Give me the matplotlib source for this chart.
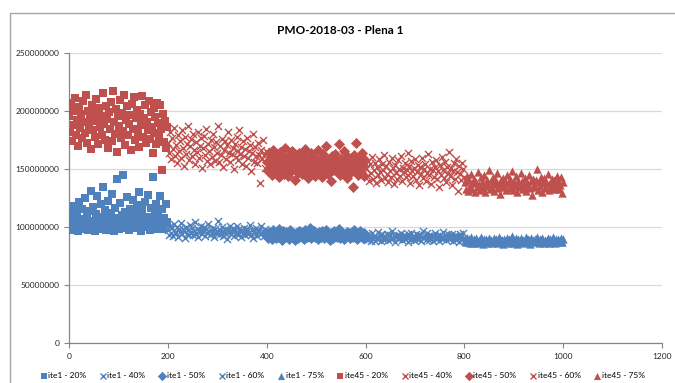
import numpy as np
import matplotlib.pyplot as plt
from matplotlib.patches import Rectangle
from matplotlib.ticker import FuncFormatter

plt.switch_backend('Agg')
plt.rcParams['font.family'] = ['Lato', 'DejaVu Sans']

BLUE = '#4F81BD'
RED = '#C0504D'

# each run covers 200 iterations; values in millions
seg_starts = [0, 200, 400, 600, 800]
pcts = ['20%', '40%', '50%', '60%', '75%']
markers = ['s', 'x', 'D', 'x', '^']

ite1_20 = [
    108.2, 101.5, 112.4, 97.8, 104.6, 118.3, 99.1, 106.7, 110.9, 96.4,
    121.5, 103.2, 98.7, 115.6, 107.3, 100.8, 124.9, 102.1, 109.5, 97.2,
    113.8, 105.4, 131.2, 99.6, 117.1, 104.0, 96.9, 111.3, 126.7, 101.7,
    108.8, 98.3, 119.4, 106.1, 134.6, 100.2, 114.7, 97.5, 109.9, 122.3,
    103.6, 99.9, 112.0, 128.4, 105.8, 96.6, 116.2, 102.9, 141.8, 107.9,
    98.1, 120.6, 104.3, 110.2, 144.7, 99.4, 113.1, 101.0, 125.8, 106.5,
    97.0, 115.9, 103.8, 108.4, 123.2, 100.5, 111.7, 98.9, 118.8, 105.1,
    130.1, 102.4, 96.8, 114.3, 107.6, 99.8, 121.9, 104.7, 109.0, 127.6,
    101.3, 97.4, 116.8, 103.0, 143.2, 106.9, 99.2, 112.6, 120.1, 98.5,
    110.6, 105.7, 126.3, 100.9, 115.2, 97.9, 108.1, 102.6, 119.9, 104.4]
ite1_40 = [
    97.2, 93.5, 100.8, 95.1, 98.9, 92.4, 102.3, 96.0, 94.7, 99.6,
    91.8, 97.9, 95.6, 103.7, 93.9, 98.2, 96.5, 90.9, 100.1, 94.3,
    97.6, 92.9, 101.5, 95.9, 99.1, 93.2, 96.8, 104.6, 94.0, 98.5,
    91.4, 97.0, 95.3, 100.5, 93.6, 96.2, 99.8, 92.1, 98.0, 94.9,
    102.7, 96.4, 93.0, 97.4, 95.0, 99.3, 91.6, 98.7, 94.5, 96.9,
    105.1, 93.3, 97.7, 95.4, 100.3, 92.6, 96.1, 98.4, 94.1, 89.8,
    97.3, 95.8, 101.2, 93.8, 96.6, 99.0, 92.3, 97.1, 94.6, 100.9,
    95.2, 93.1, 98.6, 96.3, 91.2, 97.5, 94.4, 99.5, 92.8, 96.0,
    98.1, 94.2, 95.7, 102.0, 93.4, 97.8, 90.5, 96.7, 94.8, 99.2,
    92.0, 95.5, 97.2, 93.7, 100.6, 94.9, 96.4, 91.9, 98.3, 95.0]
ite1_50 = [
    93.4, 90.8, 96.1, 91.9, 94.7, 89.6, 97.3, 92.5, 95.2, 90.3,
    93.9, 91.4, 98.6, 92.8, 94.1, 89.2, 96.5, 93.0, 91.1, 95.8,
    92.2, 94.4, 90.0, 97.8, 93.6, 91.7, 95.0, 92.9, 88.7, 94.9,
    93.2, 90.6, 96.8, 92.0, 95.5, 91.3, 94.2, 89.9, 97.0, 93.7,
    91.6, 95.3, 92.6, 99.4, 90.9, 94.0, 93.1, 96.2, 91.0, 94.6,
    92.4, 89.4, 95.7, 93.3, 91.8, 96.9, 92.1, 94.8, 90.4, 93.8,
    97.5, 91.5, 94.3, 92.7, 88.9, 95.1, 93.5, 90.7, 96.4, 92.3,
    94.5, 91.2, 93.0, 98.1, 90.1, 95.4, 92.9, 94.1, 89.7, 93.9,
    91.9, 96.0, 92.5, 94.9, 90.5, 93.2, 95.6, 91.4, 97.2, 92.8,
    94.2, 89.5, 93.6, 91.6, 96.6, 92.0, 94.7, 90.2, 95.0, 93.1]
ite1_60 = [
    91.2, 88.7, 93.6, 89.9, 92.4, 87.8, 94.8, 90.5, 92.0, 88.3,
    91.7, 89.4, 95.5, 90.9, 92.8, 88.0, 93.9, 91.4, 89.1, 92.6,
    90.2, 94.3, 88.5, 91.9, 93.1, 89.6, 96.2, 90.7, 92.2, 87.5,
    91.0, 93.4, 89.3, 92.7, 90.1, 94.6, 88.8, 91.6, 93.0, 89.8,
    92.5, 90.4, 87.2, 93.7, 91.3, 89.0, 95.1, 90.8, 92.1, 88.4,
    91.8, 94.0, 89.5, 92.9, 90.0, 93.3, 88.2, 91.5, 96.7, 90.6,
    92.3, 89.2, 94.4, 91.1, 88.9, 93.5, 90.3, 92.0, 87.9, 91.9,
    94.9, 89.7, 92.6, 90.9, 88.1, 93.2, 91.4, 89.4, 95.3, 90.5,
    92.7, 88.6, 91.2, 93.8, 89.9, 92.2, 90.2, 94.1, 88.3, 91.7,
    93.0, 89.1, 92.4, 90.7, 86.9, 93.6, 91.0, 89.6, 94.5, 90.4]
ite1_75 = [
    88.4, 86.7, 90.2, 87.5, 89.3, 85.9, 91.1, 88.0, 86.3, 89.8,
    87.2, 90.6, 88.8, 86.0, 89.1, 87.7, 91.6, 88.2, 85.6, 90.0,
    87.9, 89.5, 86.5, 88.6, 90.9, 87.1, 89.0, 85.8, 88.9, 87.4,
    90.4, 86.8, 89.7, 88.1, 86.2, 91.3, 87.6, 89.2, 88.5, 85.4,
    89.9, 87.0, 88.7, 90.7, 86.4, 89.4, 87.8, 88.3, 91.9, 86.6,
    88.9, 87.3, 90.3, 85.7, 89.6, 88.0, 86.9, 90.1, 87.5, 89.0,
    86.1, 88.6, 91.0, 87.2, 89.8, 88.4, 85.5, 90.5, 87.9, 88.8,
    86.7, 89.3, 87.6, 91.4, 88.2, 86.3, 89.9, 87.0, 90.8, 88.5,
    85.9, 89.1, 87.4, 88.7, 90.2, 86.5, 89.5, 88.1, 87.1, 91.2,
    88.9, 86.0, 90.0, 87.7, 89.4, 88.3, 86.8, 90.6, 87.3, 89.7]

ite45_20 = [
    195.3, 182.1, 206.8, 174.5, 199.7, 188.2, 211.4, 178.9, 192.6, 169.8,
    203.5, 185.7, 197.1, 176.3, 208.9, 190.4, 181.2, 213.6, 172.7, 200.3,
    187.5, 194.8, 167.2, 205.1, 183.9, 198.6, 177.4, 210.2, 191.8, 171.5,
    202.7, 186.3, 196.0, 179.6, 215.8, 189.1, 175.2, 204.3, 193.5, 168.4,
    199.2, 184.6, 207.7, 173.8, 217.3, 190.9, 180.5, 201.6, 164.9, 195.9,
    186.8, 209.5, 176.7, 198.1, 182.7, 214.1, 170.6, 192.2, 203.9, 179.1,
    188.7, 196.8, 166.5, 206.2, 184.2, 211.9, 174.9, 193.7, 200.8, 181.6,
    169.3, 197.6, 187.9, 212.7, 177.8, 194.3, 205.6, 172.4, 190.1, 183.3,
    208.4, 175.7, 199.5, 186.1, 163.8, 202.2, 180.8, 195.1, 171.9, 207.3,
    189.6, 178.4, 204.8, 184.9, 149.5, 197.3, 173.2, 191.4, 167.9, 186.5]
ite45_40 = [
    172.4, 163.8, 181.5, 158.2, 176.9, 167.1, 185.3, 161.6, 170.8, 155.4,
    179.2, 165.7, 174.1, 159.9, 183.6, 168.5, 152.8, 177.3, 163.2, 171.9,
    186.7, 157.5, 169.4, 175.8, 161.1, 180.4, 166.3, 154.6, 173.5, 164.9,
    182.1, 159.3, 170.2, 176.5, 150.7, 167.8, 178.6, 162.4, 184.9, 156.8,
    171.3, 165.1, 153.9, 174.7, 160.5, 179.8, 168.9, 157.1, 172.9, 163.6,
    187.4, 155.9, 169.7, 161.8, 176.1, 151.6, 166.8, 173.8, 158.7, 170.5,
    181.9, 164.2, 156.3, 175.4, 162.9, 168.2, 149.8, 171.6, 160.1, 177.7,
    165.4, 157.8, 183.2, 163.0, 169.1, 154.2, 174.3, 161.4, 167.5, 152.3,
    176.8, 159.6, 165.9, 171.1, 148.4, 163.7, 180.6, 156.1, 168.7, 160.8,
    154.9, 172.2, 162.1, 137.6, 166.6, 158.4, 174.9, 161.9, 151.2, 165.2]
ite45_50 = [
    156.2, 148.7, 163.5, 151.9, 159.8, 144.6, 166.3, 153.4, 147.2, 161.7,
    150.5, 157.9, 142.8, 164.8, 155.1, 149.3, 160.6, 146.1, 168.2, 152.7,
    158.4, 143.9, 162.1, 154.6, 148.1, 165.9, 151.3, 157.0, 140.7, 159.3,
    153.8, 146.8, 163.9, 150.1, 156.7, 145.4, 161.2, 152.2, 167.4, 148.9,
    155.6, 141.9, 158.9, 149.7, 164.2, 153.1, 147.6, 160.1, 144.2, 157.5,
    151.0, 166.8, 146.4, 154.3, 159.6, 143.1, 162.7, 150.8, 156.1, 148.4,
    169.5, 152.9, 145.9, 158.2, 154.0, 139.8, 161.5, 149.0, 155.3, 163.1,
    147.9, 157.3, 151.6, 171.8, 144.9, 159.0, 153.6, 148.6, 165.3, 150.3,
    156.5, 142.4, 160.4, 152.4, 146.9, 158.7, 154.9, 134.3, 162.4, 149.5,
    172.6, 155.8, 145.1, 159.4, 151.7, 147.3, 163.6, 153.3, 143.6, 157.7]
ite45_60 = [
    150.3, 143.8, 157.2, 139.6, 153.9, 146.4, 160.7, 141.2, 148.9, 155.5,
    137.8, 151.6, 144.9, 158.3, 147.7, 140.5, 154.7, 149.2, 162.1, 142.6,
    152.4, 145.6, 138.9, 156.4, 148.1, 143.3, 159.5, 150.9, 136.7, 153.2,
    146.9, 141.8, 157.9, 149.7, 144.2, 161.4, 139.3, 151.1, 147.3, 155.1,
    142.9, 149.4, 163.8, 145.2, 152.8, 138.2, 156.9, 148.5, 143.7, 150.6,
    158.9, 140.9, 147.0, 153.6, 135.8, 151.9, 145.9, 159.8, 142.1, 149.9,
    154.3, 139.9, 146.6, 162.7, 144.5, 150.1, 137.3, 155.8, 148.8, 143.0,
    152.1, 157.6, 141.5, 147.9, 134.6, 153.4, 145.0, 160.2, 149.1, 142.3,
    156.1, 139.0, 151.4, 146.2, 164.5, 144.1, 150.8, 136.4, 148.3, 154.9,
    141.1, 158.4, 147.5, 131.2, 152.6, 145.3, 140.2, 155.3, 149.6, 143.4]
ite45_75 = [
    138.4, 133.1, 143.6, 130.8, 140.2, 135.7, 145.9, 132.4, 137.6, 141.8,
    129.9, 139.1, 134.5, 147.3, 136.2, 131.7, 142.7, 138.9, 133.8, 144.4,
    130.2, 137.0, 140.9, 135.1, 149.2, 132.9, 139.7, 134.0, 143.1, 136.8,
    131.3, 141.4, 138.1, 146.6, 133.5, 137.3, 128.7, 140.6, 135.4, 142.2,
    134.8, 139.4, 131.9, 145.1, 137.9, 133.3, 141.1, 136.5, 148.5, 132.1,
    138.7, 135.0, 143.9, 130.5, 140.0, 136.1, 134.2, 146.2, 139.9, 132.7,
    137.4, 142.5, 131.0, 138.2, 135.6, 144.8, 133.9, 139.3, 127.4, 141.6,
    136.4, 134.6, 140.4, 149.8, 132.3, 138.6, 135.3, 143.3, 130.1, 137.8,
    142.0, 133.6, 139.0, 136.9, 145.5, 131.5, 138.0, 134.4, 141.3, 135.9,
    140.7, 132.6, 137.1, 144.1, 139.6, 133.0, 136.0, 142.9, 129.4, 138.5]

ite1 = [ite1_20, ite1_40, ite1_50, ite1_60, ite1_75]
ite45 = [ite45_20, ite45_40, ite45_50, ite45_60, ite45_75]

fig = plt.figure(figsize=[6.75, 3.83], dpi=100)
ax = fig.add_axes([69 / 675, 1 - 343 / 383, 593 / 675, 290 / 383])

# chart frame
fig.patches.append(Rectangle((10 / 675, -0.05), 1.2, 1 - 13 / 383 + 0.05,
                             transform=fig.transFigure, fill=False,
                             edgecolor='#A6A6A6', lw=1, zorder=0))

marker_size = {'s': 26, 'x': 26, 'D': 32, '^': 36}

for group, name, color in [(ite1, 'ite1', BLUE), (ite45, 'ite45', RED)]:
    for start, pct, mk, vals in zip(seg_starts, pcts, markers, group):
        x = np.arange(start + 1, start + 201, 2)
        y = np.array(vals) * 1e6
        ax.scatter(x, y, marker=mk, s=marker_size[mk], color=color,
                   linewidths=1.0 if mk == 'x' else 0,
                   label='{0} - {1}'.format(name, pct), zorder=3)

ax.set_xlim(0, 1200)
ax.set_ylim(0, 250000000)
ax.set_xticks(np.arange(0, 1201, 200))
ax.set_yticks(np.arange(0, 250000001, 50000000))
ax.yaxis.set_major_formatter(FuncFormatter(lambda v, p: '{0:d}'.format(int(v))))

ax.grid(axis='y', color='#D9D9D9', lw=0.9, zorder=0)
ax.set_axisbelow(True)
for side in ['top', 'right']:
    ax.spines[side].set_visible(False)
for side in ['left', 'bottom']:
    ax.spines[side].set_color('#868686')
    ax.spines[side].set_linewidth(0.9)
ax.tick_params(axis='both', colors='#868686', labelcolor='#262626',
               labelsize=6, length=3.5, width=0.8)
ax.tick_params(axis='x', pad=4)

fig.text(340 / 675, 1 - 30 / 383, 'PMO-2018-03 - Plena 1', ha='center',
         va='center', fontsize=8.5, fontweight='bold', color='#000000')

handles, labels = ax.get_legend_handles_labels()
leg = fig.legend(handles, labels, loc='center', ncol=10,
                 bbox_to_anchor=(343 / 675, 1 - 376 / 383), frameon=False,
                 fontsize=6, handlelength=0.6, handletextpad=0.25,
                 columnspacing=1.7, markerscale=0.85, borderpad=0)

plt.savefig('out.png', dpi=100)
plt.close()
